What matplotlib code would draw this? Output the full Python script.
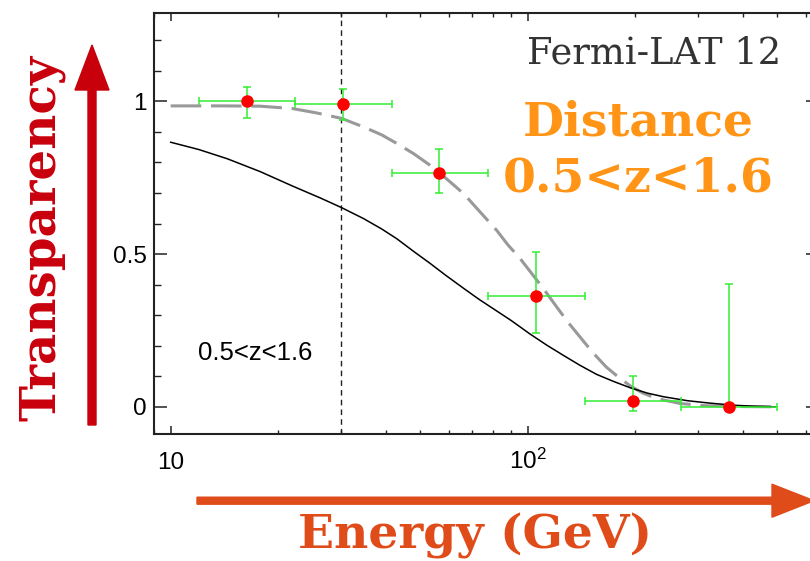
"""Gamma-ray transparency vs energy for the 0.5<z<1.6 bin (Fermi-LAT 12).

Binned transparency points with energy-bin and statistical error bars,
the best-fit attenuation curve (dashed grey) and the EBL model curve (black).
Writes out.png.
"""

import matplotlib

matplotlib.use("Agg")
import matplotlib.pyplot as plt
import numpy as np
from matplotlib.patches import FancyArrow
from matplotlib.ticker import FixedLocator, LogLocator, NullFormatter

plt.rcParams["font.family"] = ["Liberation Sans", "DejaVu Sans"]
plt.rcParams["mathtext.fontset"] = "custom"
plt.rcParams["mathtext.rm"] = "Liberation Sans"

# measured transparency per energy bin (GeV)
energy = np.array([16.4, 30.4, 56.5, 105.4, 197.5, 367.0])
energy_lo = np.array([12.0, 22.3, 41.6, 77.3, 144.5, 268.5])
energy_hi = np.array([22.3, 41.6, 77.3, 144.5, 268.5, 498.0])
transp = np.array([1.0, 0.99, 0.766, 0.362, 0.02, 0.0])
transp_lo = np.array([0.946, 0.94, 0.700, 0.243, -0.015, 0.0])
transp_hi = np.array([1.046, 1.04, 0.843, 0.507, 0.100, 0.401])

# EBL model transparency
model_e = [10.0, 12.0, 14.4, 17.8, 22.0, 26.2, 30.1, 34.7, 39.0, 43.0, 48.0,
           53.2, 59.0, 66.1, 73.0, 81.8, 90.0, 101, 113, 126, 140, 156, 174,
           194, 216, 240, 280, 324, 380, 430, 493]
model_t = [0.866, 0.842, 0.812, 0.770, 0.722, 0.684, 0.652, 0.616, 0.582,
           0.550, 0.508, 0.470, 0.430, 0.388, 0.352, 0.314, 0.282, 0.240,
           0.202, 0.168, 0.136, 0.106, 0.083, 0.062, 0.045, 0.033, 0.020,
           0.012, 0.005, 0.002, 0.0]

# best-fit attenuation
fit_e = [10.0, 14.0, 17.8, 22.0, 25.6, 30.1, 34.7, 39.0, 43.0, 48.0, 53.2,
         59.0, 66.1, 73.0, 81.8, 88.0, 95.1, 106, 113, 120.5, 130, 140, 152,
         166, 180, 194, 210, 230, 267, 310, 380, 493]
fit_t = [0.985, 0.985, 0.984, 0.976, 0.962, 0.944, 0.916, 0.890, 0.862,
         0.828, 0.791, 0.748, 0.698, 0.642, 0.578, 0.530, 0.486, 0.415,
         0.372, 0.327, 0.275, 0.229, 0.178, 0.130, 0.096, 0.068, 0.045,
         0.027, 0.011, 0.004, 0.001, 0.0]

cut_energy = 30.0
y_ticks = [0, 0.5, 1]
y_tick_labels = ["0", "0.5", "1"]
x_ticks = [10, 100]
x_tick_labels = ["10", r"$\mathregular{10^{2}}$"]

W, H, DPI = 810, 561, 100
RED = "#c8000c"
ORANGE_RED = "#e04b1a"
ORANGE = "#ff9416"
GREEN = "#33ee33"
SERIF = ["DejaVu Serif"]


def px(x, y):
    """pixel position (from top-left) -> inches for dpi_scale_trans"""
    return x / DPI, (H - y) / DPI


def main() -> None:
    fig = plt.figure(figsize=(W / DPI, H / DPI), dpi=DPI)
    ax = fig.add_axes([154 / W, (H - 433.7) / H, (818 - 154) / W, (433.7 - 12.7) / H])

    ax.plot(fit_e, fit_t, color="#999999", lw=2.2, dashes=(10, 3.2), zorder=2)
    ax.plot(model_e, model_t, color="black", lw=1.1, zorder=3)
    ax.axvline(cut_energy, color="#222222", lw=1.0, dashes=(4, 3), zorder=1)
    ax.errorbar(energy, transp,
                xerr=[energy - energy_lo, energy_hi - energy],
                yerr=[transp - transp_lo, transp_hi - transp],
                fmt="o", color="red", ms=8, ecolor=GREEN, elinewidth=1.1,
                capsize=3, capthick=1.1, zorder=4)

    ax.set_xscale("log")
    ax.set_xlim(8.98, 650)
    ax.set_ylim(-0.088, 1.29)
    ax.xaxis.set_major_locator(FixedLocator(x_ticks))
    ax.set_xticklabels(x_tick_labels)
    ax.xaxis.set_minor_locator(LogLocator(base=10, subs=np.arange(2, 10)))
    ax.xaxis.set_minor_formatter(NullFormatter())
    ax.set_yticks(y_ticks, y_tick_labels)
    ax.yaxis.set_minor_locator(FixedLocator(np.arange(-0.0, 1.3, 0.1)))

    for s in ax.spines.values():
        s.set_color("#222222")
        s.set_linewidth(1.5)
    ax.tick_params(which="both", direction="in", top=True, right=True, color="#222222",
                   labelsize=17.5)
    ax.tick_params(axis="y", which="major", length=9, width=1.1, pad=5)
    ax.tick_params(axis="y", which="minor", length=5, width=1.0)
    ax.tick_params(axis="x", which="major", length=6, width=1.1, pad=25.4)
    ax.tick_params(axis="x", which="minor", length=3, width=1.0)
    plt.setp(ax.get_xticklabels(), va="baseline")

    tr = fig.dpi_scale_trans
    ax.text(*px(198, 360), "0.5<z<1.6", transform=tr, fontsize=18.5, va="baseline")

    fig.text(*px(526.7, 63.3), "Fermi-LAT 12", transform=tr, family=SERIF,
             fontsize=26.5, color="#333333", va="baseline")
    fig.text(*px(638.3, 135), "Distance", transform=tr, family=SERIF, weight="bold",
             fontsize=34, color=ORANGE, ha="center", va="baseline")
    fig.text(*px(638.3, 191.7), "0.5<z<1.6", transform=tr, family=SERIF, weight="bold",
             fontsize=34, color=ORANGE, ha="center", va="baseline")

    # axis captions with arrows
    fig.text(*px(42, 238), "Transparency", transform=tr, family=SERIF, weight="bold",
             fontsize=34.8, color=RED, rotation=90, ha="center", va="center")
    fig.text(*px(475, 548.5), "Energy (GeV)", transform=tr, family=SERIF, weight="bold",
             fontsize=34, color=ORANGE_RED, ha="center", va="baseline")

    x0, y0 = px(92, 425)
    _, y1 = px(92, 45)
    fig.add_artist(FancyArrow(x0, y0, 0, y1 - y0, width=0.08, head_width=0.34,
                              head_length=0.45, length_includes_head=True,
                              color=RED, transform=tr, clip_on=False))
    x0, y0 = px(197, 500.7)
    x1, _ = px(814, 500.7)
    fig.add_artist(FancyArrow(x0, y0, x1 - x0, 0, width=0.07, head_width=0.33,
                              head_length=0.42, length_includes_head=True,
                              color=ORANGE_RED, transform=tr, clip_on=False))

    fig.savefig("out.png", dpi=DPI)


if __name__ == "__main__":
    main()
